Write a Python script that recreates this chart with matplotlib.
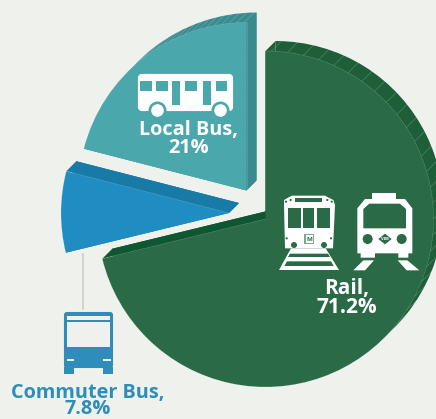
import numpy as np
import matplotlib
matplotlib.use('Agg')
import matplotlib.pyplot as plt
from matplotlib.patches import Wedge, Polygon, Circle, FancyBboxPatch

W, H = 436, 419
modes = ['Rail', 'Commuter Bus', 'Local Bus']
shares = [71.2, 7.8, 21]
face_colors = ['#2B6A46', '#1F8DC1', '#4AA7AC']
side_colors = ['#1E5F3A', '#187AA6', '#3A8B90']
edge_colors = ['#0F5733', '#187AA6', '#3A8B90']
centers = [(265.5, 219), (229, 213), (246.5, 190.5)]
RADIUS = 168
DEPTH = 10
BG = '#EFF2EC'
WHITE = '#FFFFFF'
BLUE = '#2E8DBA'
GREEN = face_colors[0]
TEAL = face_colors[2]

plt.rcParams['font.family'] = ['Open Sans', 'DejaVu Sans']
fig = plt.figure(figsize=(W / 100, H / 100), dpi=100, facecolor=BG)
ax = fig.add_axes([0, 0, 1, 1])
ax.set_xlim(0, W)
ax.set_ylim(0, H)
ax.axis('off')


def pt(x, y):
    # picture pixels (y down) to axes coords (y up)
    return (x, H - y)


def poly(points, color, z=5, ox=0, oy=0, s=1.0):
    ax.add_patch(Polygon([pt(ox + a * s, oy + b * s) for a, b in points],
                         closed=True, fc=color, ec='none', zorder=z))


def circ(x, y, r, color, z=6):
    ax.add_patch(Circle(pt(x, y), r, fc=color, ec='none', zorder=z))


def rect(x0, y0, x1, y1, color, z=6, ox=0, oy=0, s=1.0):
    poly([(x0, y0), (x1, y0), (x1, y1), (x0, y1)], color, z, ox, oy, s)


# slices, clockwise from 12 o'clock
start = 90
for i in range(len(shares)):
    end = start - shares[i] * 3.6
    front = pt(*centers[i])
    back = (front[0] + DEPTH, front[1] + DEPTH)
    a0, a1 = np.radians(start), np.radians(end)

    # extruded part behind the slice
    ax.add_patch(Wedge(back, RADIUS, end, start, fc=side_colors[i], ec='none', zorder=1))
    for k, a in enumerate((a0, a1)):
        ex, ey = RADIUS * np.cos(a), RADIUS * np.sin(a)
        q = [front, back, (back[0] + ex, back[1] + ey), (front[0] + ex, front[1] + ey)]
        color = side_colors[i] if k == 0 else edge_colors[i]
        ax.add_patch(Polygon(q, closed=True, fc=color, ec='none', zorder=2))

    # hatching on the rim, only where the rim shows
    step = 5.5 if i == 0 else 2.6
    for d in np.arange(start - 2, end, -step):
        norm = (d + 180) % 360 - 180
        if not -45 < norm < 135:
            continue
        a = np.radians(d)
        x0, y0 = front[0] + RADIUS * np.cos(a), front[1] + RADIUS * np.sin(a)
        ax.plot([x0, x0 + DEPTH], [y0, y0 + DEPTH], color='white', alpha=0.22, lw=0.5, zorder=3)

    ax.add_patch(Wedge(front, RADIUS, end, start, fc=face_colors[i], ec='none', zorder=4))
    # thin dashed seam on the front edge
    th = np.radians(np.linspace(start, end, 300))
    ax.plot(front[0] + RADIUS * np.cos(th), front[1] + RADIUS * np.sin(th), color='white',
            alpha=0.3, lw=0.4, ls=(0, (3, 1)), zorder=4.5)
    ax.plot([front[0], front[0] + RADIUS * np.cos(a1)], [front[1], front[1] + RADIUS * np.sin(a1)],
            color='white', alpha=0.3, lw=0.4, ls=(0, (3, 1)), zorder=4.5)
    start = end

# leader line
ax.plot([83, 83], [H - 254, H - 309], color='#C9CAC7', lw=1.1, zorder=1)

# local bus icon
ax.add_patch(FancyBboxPatch(pt(140, 109), 91, 33, boxstyle='round,pad=0,rounding_size=2',
                            fc=WHITE, ec=WHITE, lw=3, zorder=5))
for x0, x1 in [(140, 152), (156, 168), (185, 197), (216, 227)]:
    rect(x0, 81, x1, 91, TEAL)
rect(172, 81, 180, 105, TEAL)
rect(203, 81, 211, 105, TEAL)
circ(157.5, 110.5, 9, TEAL)
circ(220.5, 110.5, 9, TEAL)
rect(146, 111, 169, 116, TEAL, 6)
rect(209, 111, 232, 116, TEAL, 6)
circ(157.5, 110.5, 6.3, WHITE, 7)
circ(220.5, 110.5, 6.3, WHITE, 7)

# metro rail icon, coordinates as on a 3x crop
ox, oy, s = 275, 185, 1 / 3
poly([(27, 60), (27, 45), (50, 32), (150, 32), (175, 45), (180, 60), (174, 190), (30, 190)], WHITE, 5, ox, oy, s)
poly([(48, 190), (152, 190), (192, 255), (12, 255)], WHITE, 5, ox, oy, s)
rect(40, 68, 78, 130, GREEN, 6, ox, oy, s)
rect(85, 68, 117, 130, GREEN, 6, ox, oy, s)
rect(125, 68, 165, 130, GREEN, 6, ox, oy, s)
rect(60, 40, 142, 50, GREEN, 6, ox, oy, s)
for a, b in [(33, 50), (47, 45), (157, 45), (170, 50), (35, 160), (168, 160)]:
    circ(ox + a * s, oy + b * s, 1.1, GREEN)
circ(ox + 57 * s, oy + 180 * s, 3, GREEN)
circ(ox + 147 * s, oy + 180 * s, 3, GREEN)
rect(88, 147, 118, 177, '#7FA98F', 6, ox, oy, s)
rect(93, 151, 113, 173, WHITE, 7, ox, oy, s)
ax.text(ox + 103 * s, H - (oy + 162 * s), 'M', ha='center', va='center', fontsize=4.5,
        fontweight='bold', color=GREEN, zorder=8)
poly([(45, 206), (159, 206), (165, 216), (39, 216)], GREEN, 6, ox, oy, s)
poly([(36, 229), (168, 229), (176, 243), (28, 243)], GREEN, 6, ox, oy, s)

# light rail icon
ox, oy = 350, 185
poly([(66, 24), (138, 24), (138, 42), (66, 42)], WHITE, 5, ox, oy, s)
poly([(22, 70), (45, 42), (165, 42), (187, 70), (187, 205), (175, 205), (175, 218), (145, 218), (145, 205),
      (75, 205), (75, 218), (32, 218), (32, 205), (22, 205)], WHITE, 5, ox, oy, s)
poly([(40, 72), (58, 56), (150, 56), (168, 72), (168, 130), (40, 130)], GREEN, 6, ox, oy, s)
circ(ox + 53 * s, oy + 162 * s, 5, GREEN)
circ(ox + 155 * s, oy + 162 * s, 5, GREEN)
poly([(85, 162), (105, 146), (125, 162), (105, 178)], GREEN, 6, ox, oy, s)
ax.text(ox + 105 * s, H - (oy + 162 * s), 'VBB', ha='center', va='center', fontsize=2.8,
        fontweight='bold', color=WHITE, zorder=8)
poly([(40, 226), (72, 226), (45, 256), (10, 256)], WHITE, 5, ox, oy, s)
poly([(143, 226), (172, 226), (208, 256), (170, 256)], WHITE, 5, ox, oy, s)

# commuter bus icon
ox, oy = 0, 300
ax.add_patch(FancyBboxPatch(pt(65, 367), 47, 54, boxstyle='round,pad=0,rounding_size=2',
                            fc=BLUE, ec=BLUE, lw=1.5, zorder=5))
rect(193, 200, 222, 221, BLUE, 5, ox, oy, s)
rect(310, 200, 338, 221, BLUE, 5, ox, oy, s)
rect(200, 47, 331, 60, BG, 6, ox, oy, s)
rect(200, 66, 331, 140, BG, 6, ox, oy, s)
rect(200, 176, 222, 184, BG, 6, ox, oy, s)
rect(310, 176, 332, 184, BG, 6, ox, oy, s)

# labels
ax.text(188.5, H - 139, f'{modes[2]},\n{shares[2]:g}%', color=WHITE, fontsize=14.3, ha='center',
        va='center', fontweight='bold', linespacing=0.86, zorder=9)
ax.text(347, H - 298, f'{modes[0]},\n{shares[0]:g}%', color=WHITE, fontsize=15, ha='center',
        va='center', fontweight='bold', linespacing=0.82, zorder=9)
ax.text(88, H - 401, f'{modes[1]},\n{shares[1]:g}%', color=BLUE, fontsize=14.3, ha='center',
        va='center', fontweight='bold', linespacing=0.78, zorder=9)

fig.savefig('out.png', dpi=100, facecolor=BG)
